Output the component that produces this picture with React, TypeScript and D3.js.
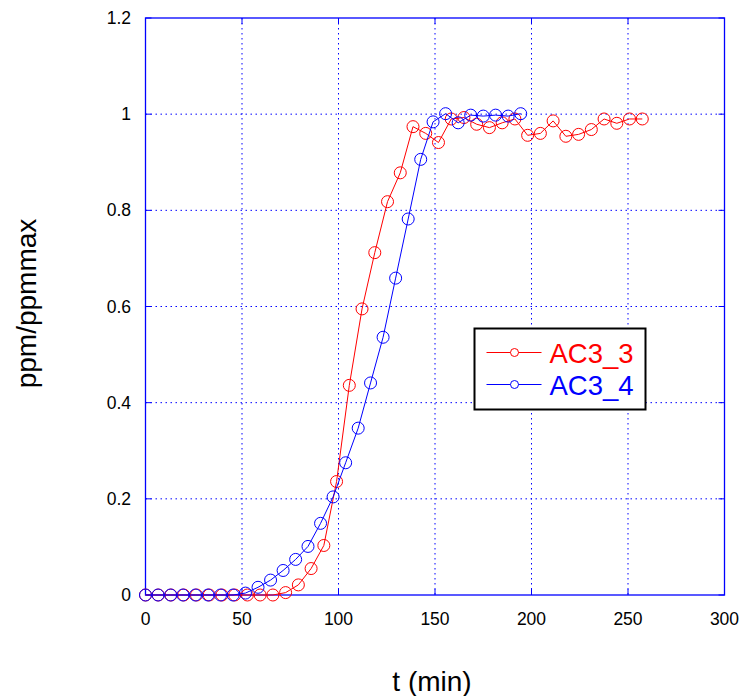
import React from "react";
import * as d3 from "d3";

const xTicks = [0, 50, 100, 150, 200, 250, 300];
const yTicks = [0, 0.2, 0.4, 0.6, 0.8, 1, 1.2];

const seriesNames = ["AC3_3", "AC3_4"];
const seriesColors = ["#ff0000", "#0000ff"];

const tRed = [0, 6.6, 13.2, 19.8, 26.4, 33, 39.6, 46.2, 52.8, 59.4, 66, 72.6, 79.2, 85.8, 92.4, 99, 105.6, 112.2, 118.8, 125.4, 132, 138.6, 145.2, 151.8, 158.4, 165, 171.6, 178.2, 184.8, 191.4, 198, 204.6, 211.2, 217.8, 224.4, 231, 237.6, 244.2, 250.8, 257.4];
const vRed = [0, 0, 0, 0, 0, 0, 0, 0, 0, 0, 0, 0.005, 0.021, 0.055, 0.103, 0.236, 0.436, 0.595, 0.712, 0.818, 0.878, 0.974, 0.96, 0.941, 0.99, 0.993, 0.979, 0.972, 0.982, 0.99, 0.956, 0.96, 0.986, 0.954, 0.958, 0.968, 0.99, 0.981, 0.99, 0.99];

const tBlue = [0, 6.5, 13, 19.4, 25.9, 32.4, 38.9, 45.4, 51.8, 58.3, 64.8, 71.3, 77.8, 84.2, 90.7, 97.2, 103.7, 110.2, 116.6, 123.1, 129.6, 136.1, 142.6, 149, 155.5, 162, 168.5, 175, 181.4, 187.9, 194.4];
const vBlue = [0, 0, 0, 0, 0, 0, 0, 0, 0.004, 0.016, 0.031, 0.051, 0.074, 0.101, 0.149, 0.204, 0.275, 0.347, 0.441, 0.536, 0.659, 0.782, 0.906, 0.984, 1.001, 0.982, 0.998, 0.996, 0.998, 0.996, 1.001];

const W = 740;
const H = 696;
const L = 145.5, R = 724.5, T = 18, B = 595;
const FONT = "Liberation Sans, Arial, sans-serif";

export default function App() {
  const x = d3.scaleLinear().domain([0, 300]).range([L, R]);
  const y = d3.scaleLinear().domain([0, 1.2]).range([B, T]);
  const series = [
    { name: seriesNames[0], color: seriesColors[0], pts: tRed.map((t, i) => [t, vRed[i]] as [number, number]) },
    { name: seriesNames[1], color: seriesColors[1], pts: tBlue.map((t, i) => [t, vBlue[i]] as [number, number]) },
  ];
  const line = d3.line<[number, number]>().x(d => x(d[0])).y(d => y(d[1]));
  const blue = "#0000ff";
  const tick = 6;
  const lgX = 474.5, lgY = 328.5, lgW = 171, lgH = 81;

  return (
    <svg width={W} height={H} style={{ position: "absolute", left: 0, top: 0, background: "#fff" }} fontFamily={FONT}>
      <rect x={0} y={0} width={W} height={H} fill="#fff" />
      {/* grid */}
      {xTicks.slice(1, -1).map(v => (
        <line key={"gx" + v} x1={x(v)} x2={x(v)} y1={T} y2={B} stroke={blue} strokeWidth={1} strokeDasharray="1.5,3.5" />
      ))}
      {yTicks.slice(1, -1).map(v => (
        <line key={"gy" + v} x1={L} x2={R} y1={y(v)} y2={y(v)} stroke={blue} strokeWidth={1} strokeDasharray="1.5,3.5" />
      ))}
      {/* ticks */}
      {xTicks.map(v => (
        <g key={"tx" + v}>
          <line x1={x(v)} x2={x(v)} y1={B} y2={B - tick} stroke={blue} strokeWidth={1} />
          <line x1={x(v)} x2={x(v)} y1={T} y2={T + tick} stroke={blue} strokeWidth={1} />
          <text x={x(v)} y={B + 30} textAnchor="middle" fontSize={17.5} fill="#000">{v}</text>
        </g>
      ))}
      {yTicks.map(v => (
        <g key={"ty" + v}>
          <line x1={L} x2={L + tick} y1={y(v)} y2={y(v)} stroke={blue} strokeWidth={1} />
          <line x1={R} x2={R - tick} y1={y(v)} y2={y(v)} stroke={blue} strokeWidth={1} />
          <text x={131} y={y(v) + 6} textAnchor="end" fontSize={17.5} fill="#000">{String(v)}</text>
        </g>
      ))}
      {/* frame */}
      <rect x={L} y={T} width={R - L} height={B - T} fill="none" stroke={blue} strokeWidth={1.3} />
      {/* series */}
      {series.map(s => (
        <g key={s.name}>
          <path d={line(s.pts) || ""} fill="none" stroke={s.color} strokeWidth={1} />
          {s.pts.map((p, i) => (
            <circle key={i} cx={x(p[0])} cy={y(p[1])} r={6} fill="none" stroke={s.color} strokeWidth={1} />
          ))}
        </g>
      ))}
      {/* legend */}
      <rect x={lgX} y={lgY} width={lgW} height={lgH} fill="#fff" stroke="#000" strokeWidth={2} />
      {series.map((s, i) => {
        const yy = lgY + 24 + i * 32;
        return (
          <g key={"lg" + s.name}>
            <line x1={lgX + 12} x2={lgX + 67} y1={yy} y2={yy} stroke={s.color} strokeWidth={1} />
            <circle cx={lgX + 40} cy={yy} r={4} fill="#fff" stroke={s.color} strokeWidth={1} />
            <text x={lgX + 75} y={yy + 10} fontSize={27.5} fill={s.color}>{s.name}</text>
          </g>
        );
      })}
      {/* axis titles */}
      <text x={432} y={691} textAnchor="middle" fontSize={28} fill="#000">t (min)</text>
      <text transform={`translate(36,${(T + B) / 2 - 3}) rotate(-90)`} textAnchor="middle" fontSize={28} fill="#000">ppm/ppmmax</text>
    </svg>
  );
}
